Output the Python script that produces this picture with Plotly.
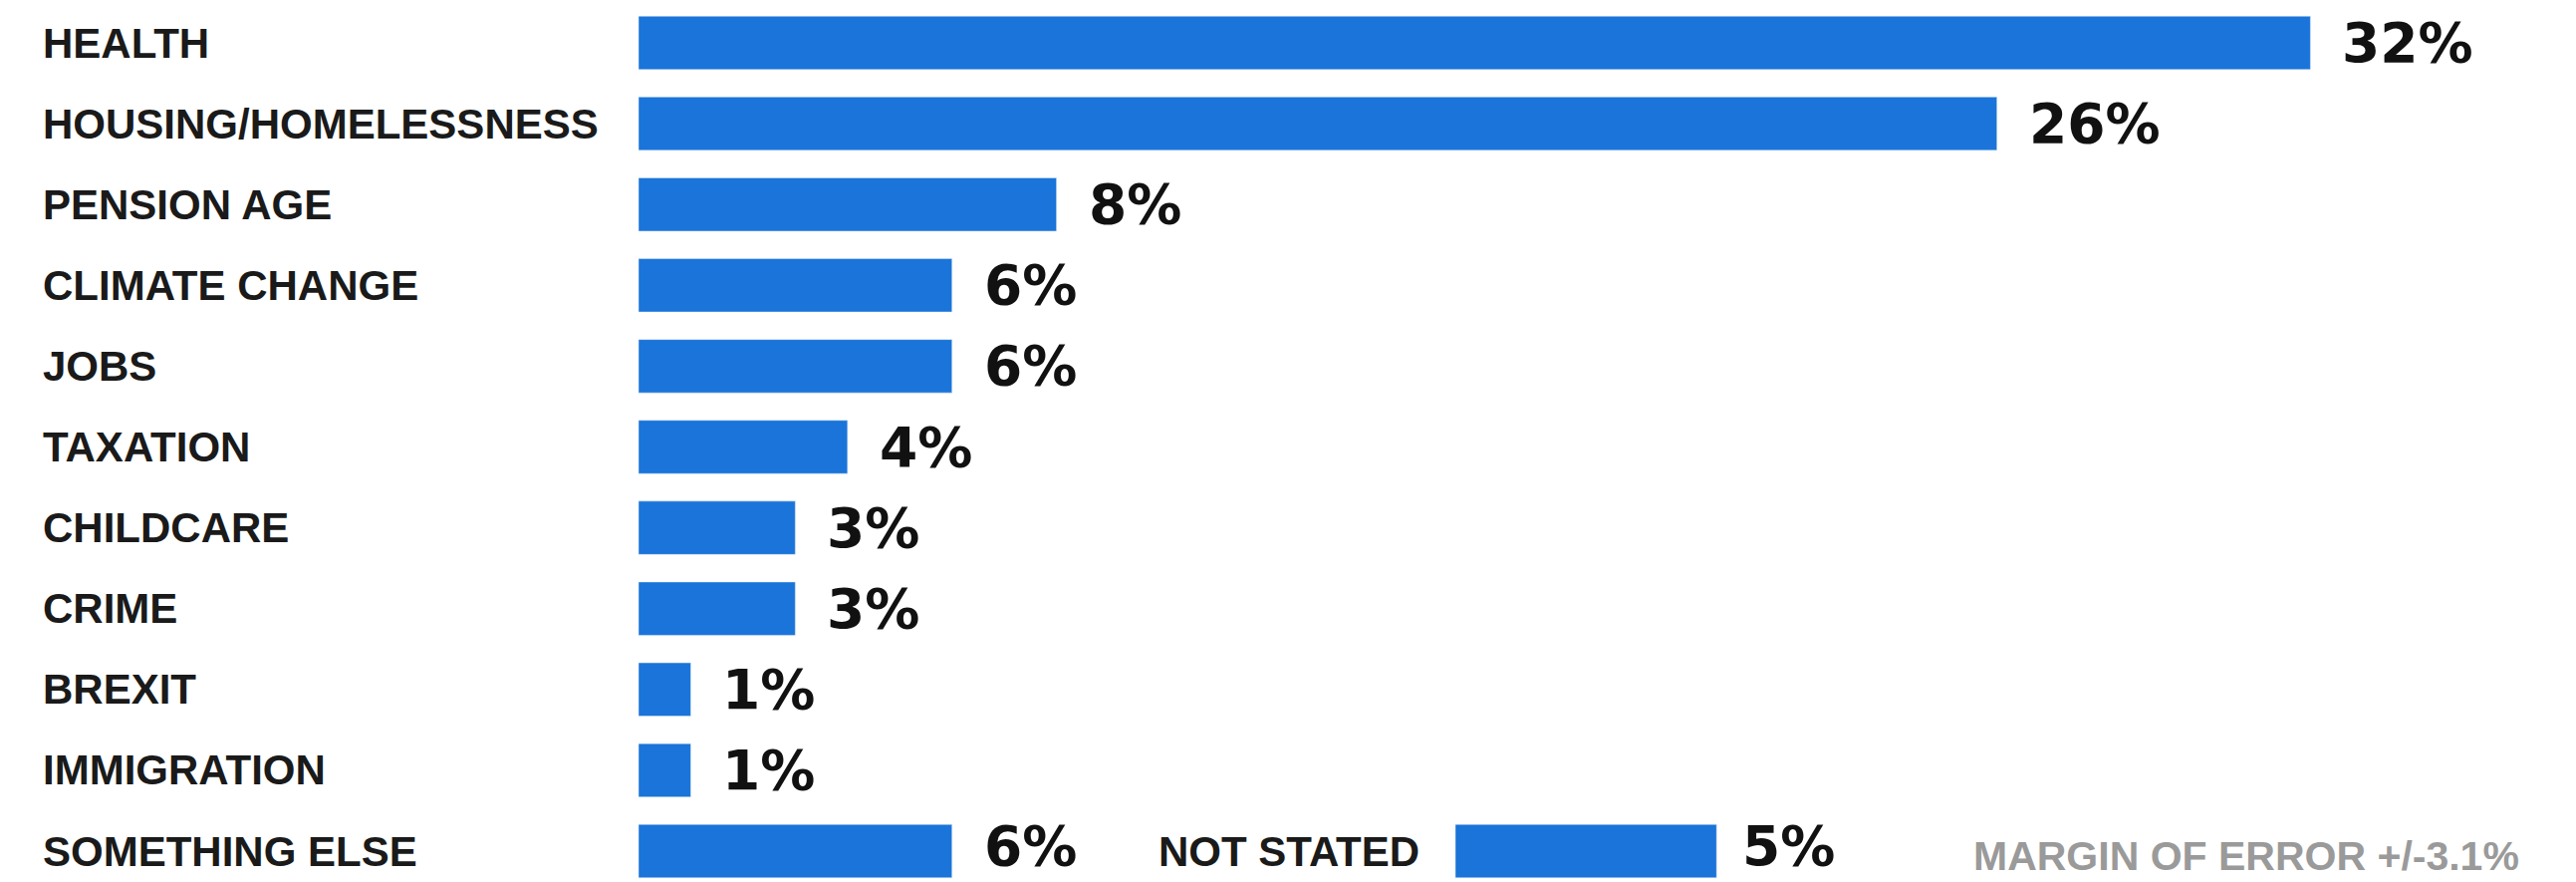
import plotly.graph_objects as go

categories = ["HEALTH", "HOUSING/HOMELESSNESS", "PENSION AGE", "CLIMATE CHANGE", "JOBS",
              "TAXATION", "CHILDCARE", "CRIME", "BREXIT", "IMMIGRATION", "SOMETHING ELSE"]
values = [32, 26, 8, 6, 6, 4, 3, 3, 1, 1, 6]
value_labels = ["32%", "26%", "8%", "6%", "6%", "4%", "3%", "3%", "1%", "1%", "6%"]

extra_category = "NOT STATED"
extra_value = [5]
extra_label = ["5%"]
extra_row = ["SOMETHING ELSE"]

note = "MARGIN OF ERROR +/-3.1%"

BLUE = "#1a74d9"
LABEL_FONT = dict(family="Liberation Sans", size=42, color="#1a1a1a", weight="bold")
VALUE_FONT = dict(family="DejaVu Sans", size=55, color="#111111", weight="bold")

# page body has an 8px margin
W, H = 2570, 877
L = 633
px_per_pct = 52.45
plot_w = W - L
xmax = plot_w / px_per_pct
offset2 = (1453 - L) / px_per_pct
row_px = 81.1
y_top = -35 / row_px
y_bot = 10 + (H - 846) / row_px

fig = go.Figure()
fig.add_trace(go.Bar(x=values, y=categories, orientation="h", marker_color=BLUE,
                     width=0.66, hoverinfo="skip"))
fig.add_trace(go.Bar(x=extra_value, y=extra_row, orientation="h", marker_color=BLUE,
                     width=0.66, xaxis="x2", name=extra_category, hoverinfo="skip"))

ann = []
for c in categories:
    ann.append(dict(x=(33 - L) / plot_w, xref="paper", y=c, yref="y", text=c,
                    xanchor="left", yanchor="middle", showarrow=False, font=LABEL_FONT))
last = categories[-1]
for c, v, t in zip(categories, values, value_labels):
    ann.append(dict(x=v, xref="x", y=c, yref="y", text=t, xanchor="left", yanchor="middle",
                    xshift=30, yshift=5 if c == last else 0, showarrow=False, font=VALUE_FONT))
ann.append(dict(x=0, xref="x2", y=extra_row[0], yref="y", text=extra_category,
                xanchor="right", yanchor="middle", xshift=-34, showarrow=False, font=LABEL_FONT))
ann.append(dict(x=extra_value[0], xref="x2", y=extra_row[0], yref="y", text=extra_label[0],
                xanchor="left", yanchor="middle", xshift=24, yshift=5, showarrow=False,
                font=VALUE_FONT))
ann.append(dict(x=(1971 - L) / plot_w, xref="paper", y=0, yref="paper", text=note,
                xanchor="left", yanchor="bottom", yshift=1, showarrow=False,
                font=dict(family="Liberation Sans", size=41, color="#9a9a9a", weight="bold")))

fig.update_layout(
    width=W, height=H,
    margin=dict(l=L, r=0, t=0, b=0),
    paper_bgcolor="white", plot_bgcolor="white",
    showlegend=False,
    xaxis=dict(range=[0, xmax], visible=False, fixedrange=True),
    xaxis2=dict(range=[-offset2, xmax - offset2], overlaying="x", anchor="y",
                visible=False, fixedrange=True),
    yaxis=dict(type="category", categoryorder="array", categoryarray=categories,
               range=[y_bot, y_top], visible=False, fixedrange=True),
    annotations=ann,
)

fig.write_html("out.html")
